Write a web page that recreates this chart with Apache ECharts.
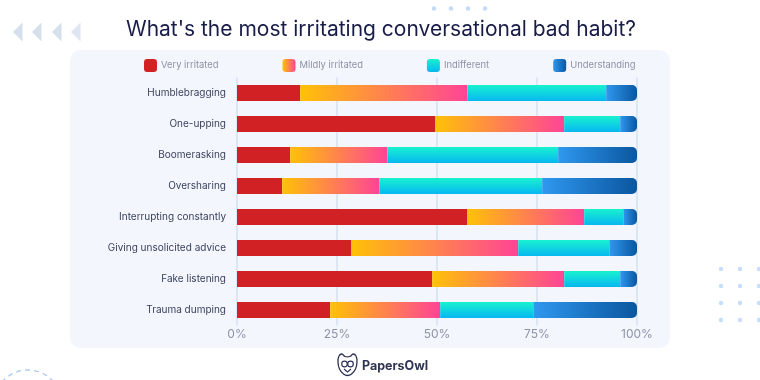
<!DOCTYPE html>
<html>
<head>
<meta charset="utf-8">
<script src="https://cdn.jsdelivr.net/npm/echarts@6/dist/echarts.min.js"></script>
<style>html,body{margin:0;padding:0;background:#fff;}#c{width:760px;height:380px;}</style>
</head>
<body>
<div id="c"></div>
<script>
const categories = ['Humblebragging','One-upping','Boomerasking','Oversharing','Interrupting constantly','Giving unsolicited advice','Fake listening','Trauma dumping'];
const seriesNames = ['Very irritated','Mildly irritated','Indifferent','Understanding'];
const veryIrritated   = [15.8, 49.6, 13.3, 11.3, 57.6, 28.6, 48.8, 23.3];
const mildlyIrritated = [41.8, 32.2, 24.3, 24.3, 29.2, 41.7, 33.0, 27.5];
const indifferent     = [34.7, 14.0, 42.7, 40.7,  9.8, 22.8, 14.0, 23.3];
const understanding   = [ 7.7,  4.2, 19.7, 23.7,  3.4,  6.9,  4.2, 25.9];
const tickLabels = ['0%','25%','50%','75%','100%'];

const FONT = 'Inter, "Noto Sans", sans-serif';
const lg = (x2, y2, c1, c2) => ({type:'linear', x:0, y:0, x2:x2, y2:y2, colorStops:[{offset:0,color:c1},{offset:1,color:c2}]});
const fills = [
  '#d12124',
  lg(1,0,'#ffc107','#ff4496'),
  lg(0,1,'#18f2cf','#07b7f1'),
  lg(1,0,'#2f98ef','#0a569f')
];
const values = [veryIrritated, mildlyIrritated, indifferent, understanding];

const chart = echarts.init(document.getElementById('c'), null, {renderer:'canvas'});

const graphics = [
  {type:'rect', z:-10, shape:{x:70,y:50,width:600,height:298,r:10}, style:{fill:'#f3f7fd'}},
  {type:'text', style:{x:381, y:30, text:"What's the most irritating conversational bad habit?", fill:'#181c48', font:'400 21px ' + FONT, textAlign:'center', textVerticalAlign:'middle'}},
  {type:'text', style:{x:362, y:366, text:'PapersOwl', fill:'#2f3454', font:'700 12.5px ' + FONT, textAlign:'left', textVerticalAlign:'middle'}},
  {type:'arc', shape:{cx:28, cy:404, r:34, startAngle:Math.PI*1.05, endAngle:Math.PI*1.95}, style:{stroke:'#a9c9f1', lineWidth:1.3, lineDash:[5,4], fill:null}},
  // owl logo
  {type:'polygon', shape:{points:[[339,356],[342,354],[345,356.5],[350,356.5],[353,354],[356,356],[357,362],[355.5,369],[351.5,374],[347.5,375.5],[343.5,374],[339.5,369],[338,362]], smooth:0.3}, style:{stroke:'#2f3454', lineWidth:1.3, fill:null}},
  {type:'circle', shape:{cx:344.5, cy:364, r:2.8}, style:{stroke:'#2f3454', lineWidth:1.2, fill:null}},
  {type:'circle', shape:{cx:350.5, cy:364, r:2.8}, style:{stroke:'#2f3454', lineWidth:1.2, fill:null}},
  {type:'polyline', shape:{points:[[344,369],[347.5,372],[351,369]]}, style:{stroke:'#2f3454', lineWidth:1.2, fill:null}}
];
// left arrows
[13, 32, 52, 71].forEach((x, i) => {
  graphics.push({type:'polygon', shape:{points:[[x+9.5,22.5],[x,32],[x+9.5,41.5]]}, style:{fill: i===3 ? '#dfe6f1' : '#d6dfec'}});
});
// top dots
[434, 451, 468, 485].forEach(x => graphics.push({type:'circle', shape:{cx:x, cy:8.5, r:2.2}, style:{fill:'#c3dbf9'}}));
// right dots grid
[721, 740, 759].forEach(x => [269, 286, 303, 320].forEach(y => graphics.push({type:'circle', shape:{cx:x, cy:y, r:2.2}, style:{fill:'#c7defa'}})));

chart.setOption({
  animation:false,
  textStyle:{fontFamily:FONT},
  graphic: graphics,
  legend:{
    left:144, top:59, padding:0, itemWidth:13, itemHeight:13, itemGap:64, icon:'roundRect',
    textStyle:{color:'#8d91a3', fontSize:9.4, fontFamily:FONT, padding:[0,0,0,-1]},
    data: seriesNames
  },
  grid:{left:237, right:123, top:77.5, bottom:54.5, containLabel:false},
  xAxis:{
    type:'value', min:0, max:100, interval:25,
    axisLine:{show:false}, axisTick:{show:false},
    splitLine:{show:true, lineStyle:{color:'#dce6f4', width:2}},
    axisLabel:{color:'#8e93a6', fontSize:12, margin:3, formatter:(v)=>tickLabels[Math.round(v/25)]}
  },
  yAxis:{
    type:'category', inverse:true, data:categories,
    axisLine:{show:false}, axisTick:{show:false},
    axisLabel:{color:'#3a3f5c', fontSize:10, margin:11}
  },
  series: seriesNames.map((n, i) => ({
    name:n, type:'bar', stack:'total', barWidth:16,
    data: values[i],
    itemStyle:{color: fills[i], borderRadius: i===3 ? [0,5,5,0] : 0}
  }))
});
</script>
</body>
</html>
